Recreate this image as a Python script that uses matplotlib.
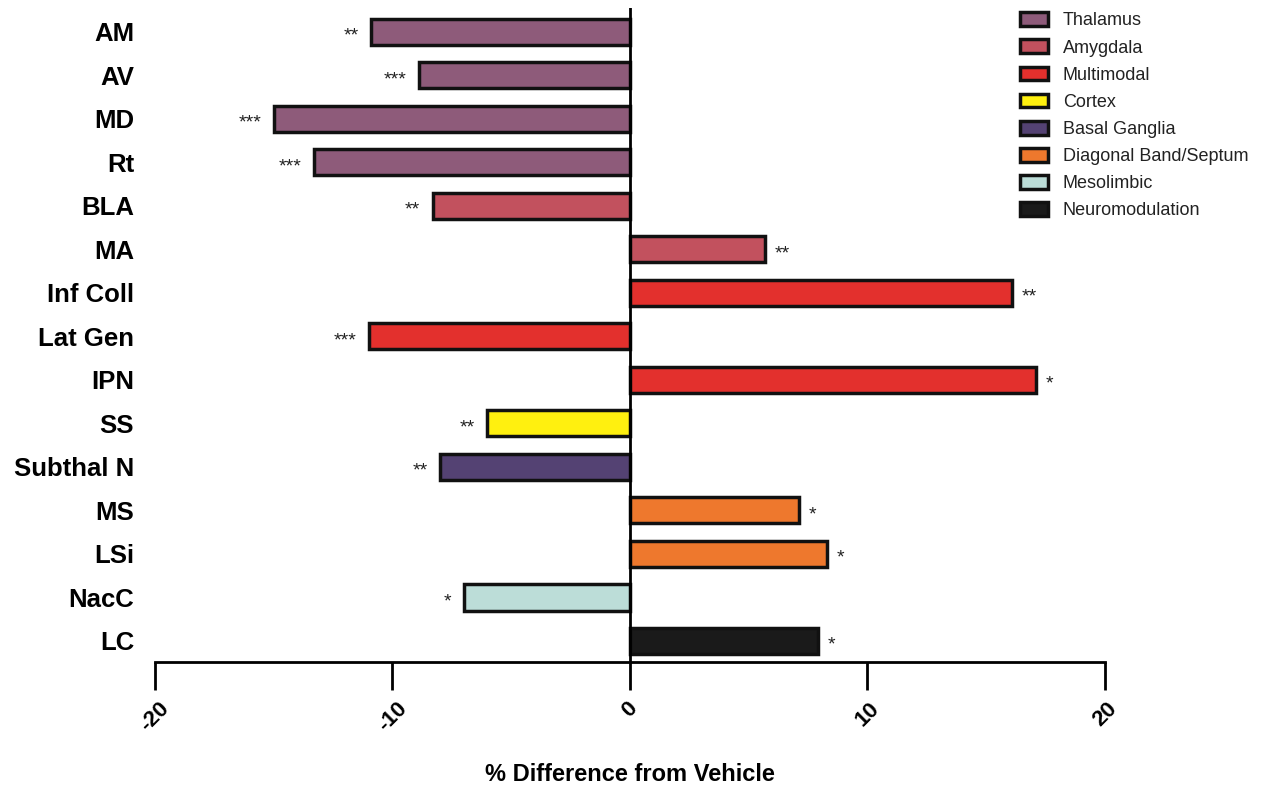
import matplotlib.pyplot as plt
from matplotlib.patches import Patch

plt.rcParams['font.family'] = ['Liberation Sans', 'DejaVu Sans']

regions = ["AM", "AV", "MD", "Rt", "BLA", "MA", "Inf Coll", "Lat Gen", "IPN",
           "SS", "Subthal N", "MS", "LSi", "NacC", "LC"]
values = [-10.9, -8.9, -15.0, -13.3, -8.3, 5.7, 16.1, -11.0, 17.1,
          -6.0, -8.0, 7.1, 8.3, -7.0, 7.9]
stars = ["**", "***", "***", "***", "**", "**", "**", "***", "*",
         "**", "**", "*", "*", "*", "*"]
groups = ["Thalamus", "Thalamus", "Thalamus", "Thalamus", "Amygdala", "Amygdala",
          "Multimodal", "Multimodal", "Multimodal", "Cortex", "Basal Ganglia",
          "Diagonal Band/Septum", "Diagonal Band/Septum", "Mesolimbic", "Neuromodulation"]
group_names = ["Thalamus", "Amygdala", "Multimodal", "Cortex", "Basal Ganglia",
               "Diagonal Band/Septum", "Mesolimbic", "Neuromodulation"]
group_colours = ["#8e5b7a", "#c2515e", "#e3302d", "#fff00f", "#544273",
                 "#ee782d", "#bcddd8", "#1a1a1a"]
colour_of = dict(zip(group_names, group_colours))

fig = plt.figure(figsize=(12.64, 7.87), dpi=100)
ax = fig.add_axes([0.1226, 0.159, 0.7516, 0.831])

ypos = list(range(len(regions)))
ax.barh(ypos, values, height=0.6, color=[colour_of[g] for g in groups],
        edgecolor="#111111", linewidth=2.5, zorder=2)
ax.axvline(0, color="black", linewidth=2, zorder=3)

# significance stars next to the bar ends
for y, v, s in zip(ypos, values, stars):
    if v < 0:
        ax.annotate(s, (v, y), xytext=(-9, -3), textcoords="offset points",
                    ha="right", va="center", fontsize=14, color="#222222")
    else:
        ax.annotate(s, (v, y), xytext=(7, -3), textcoords="offset points",
                    ha="left", va="center", fontsize=14, color="#222222")

ax.set_xlim(-20, 20)
ax.set_ylim(14.48, -0.55)
ax.set_yticks(ypos)
ax.set_yticklabels(regions, fontsize=18.5, fontweight="bold")
ax.tick_params(axis="y", length=0, pad=15)
ax.set_xticks([-20, -10, 0, 10, 20])
ax.set_xticklabels(["-20", "-10", "0", "10", "20"], rotation=45, ha="center",
                   fontsize=16, fontweight="bold")
ax.tick_params(axis="x", length=20, width=2, direction="out", pad=6)
ax.set_xlabel("% Difference from Vehicle", fontsize=17, fontweight="bold", labelpad=20)

for side in ["top", "right", "left"]:
    ax.spines[side].set_visible(False)
ax.spines["bottom"].set_linewidth(2)

handles = [Patch(facecolor=c, edgecolor="#111111", linewidth=2.5, label=n)
           for n, c in zip(group_names, group_colours)]
leg = fig.legend(handles=handles, loc="upper left", bbox_to_anchor=(0.7945, 1.005),
                 frameon=False, fontsize=13, handlelength=1.55, handleheight=0.8,
                 labelspacing=0.55, handletextpad=0.8)
for t in leg.get_texts():
    t.set_color("#222222")

fig.savefig("out.png", dpi=100)
